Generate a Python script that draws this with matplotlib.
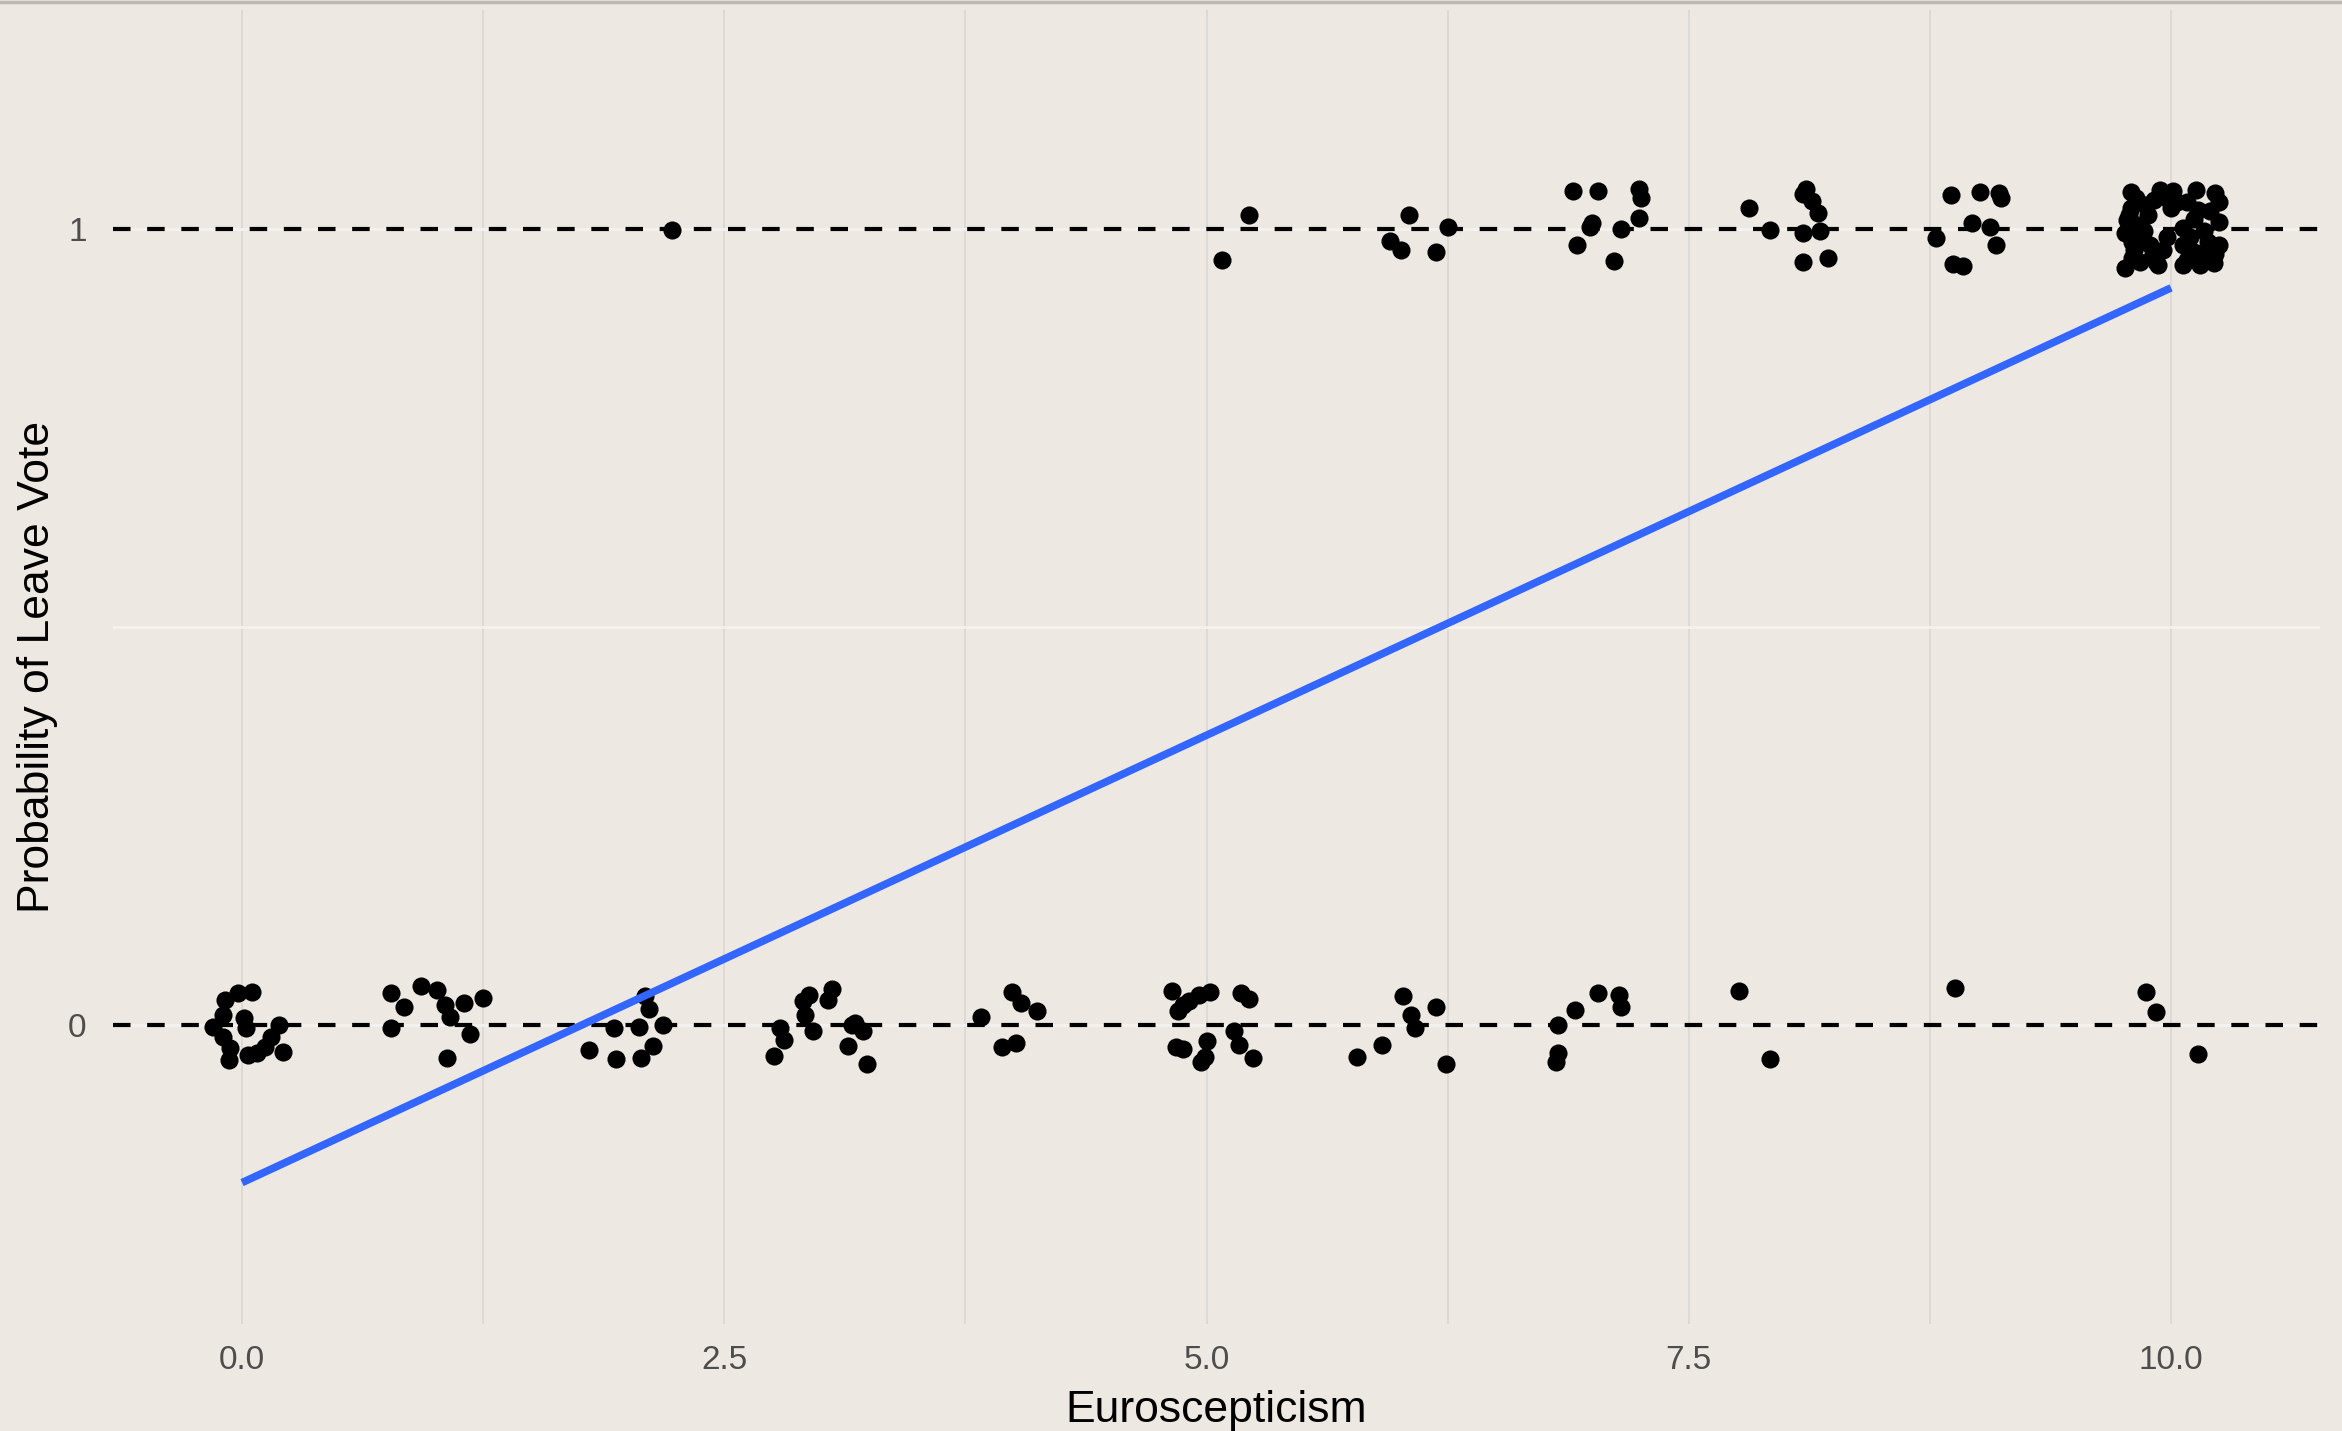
"""
Linear probability model of a Leave vote against euroscepticism,
with jittered respondents and the fitted line.
"""
import matplotlib
matplotlib.use("Agg")
import matplotlib.pyplot as plt
from matplotlib.lines import Line2D
from matplotlib.ticker import FixedLocator
import numpy as np

plt.rcParams['font.family'] = ['Liberation Sans', 'DejaVu Sans']

# Jittered respondents who voted Remain (vote = 0).
remain_x = [
    -0.09, -0.02, 0.05, -0.10, -0.15, 0.01, 0.02, 0.19, 0.15, -0.10, -0.06, -0.07, 0.03, 0.08, 0.12, 0.21,
    0.77, 0.84, 0.93, 1.01, 1.05, 1.08, 1.15, 1.25, 0.77, 1.18, 1.06,
    2.09, 2.11, 2.18, 2.06, 1.93, 2.13, 1.80, 1.94, 2.07,
    2.94, 2.91, 3.06, 3.04, 2.92, 2.96, 2.79, 2.81, 2.76, 3.16, 3.22, 3.14, 3.24, 3.18,
    3.83, 3.99, 4.04, 4.12, 3.94, 4.01,
    4.82, 4.85, 4.88, 4.91, 4.96, 5.02, 4.84, 4.88, 5.00, 4.97, 4.99, 5.14, 5.17, 5.18, 5.22, 5.24,
    6.02, 6.19, 6.06, 6.08, 5.91, 5.78, 6.24,
    6.82, 6.91, 7.03, 7.14, 7.15, 6.82, 6.81,
    7.76, 7.92,
    8.88,
    9.87, 9.92, 10.14,
]
remain_y = [
    0.031, 0.040, 0.041, 0.013, -0.003, 0.009, -0.004, 0.000, -0.015, -0.015, -0.029, -0.044, -0.038, -0.035, -0.028, -0.034,
    0.040, 0.023, 0.049, 0.044, 0.025, 0.010, 0.028, 0.034, -0.004, -0.011, -0.042,
    0.036, 0.020, 0.000, -0.002, -0.004, -0.026, -0.032, -0.043, -0.041,
    0.038, 0.030, 0.045, 0.032, 0.013, -0.007, -0.004, -0.019, -0.039, 0.000, -0.008, -0.027, -0.049, 0.003,
    0.010, 0.042, 0.028, 0.018, -0.028, -0.023,
    0.043, 0.018, 0.025, 0.030, 0.038, 0.041, -0.028, -0.030, -0.020, -0.046, -0.040, -0.008, -0.025, 0.040, 0.033, -0.041,
    0.036, 0.023, 0.013, -0.004, -0.025, -0.040, -0.049,
    0.000, 0.019, 0.040, 0.038, 0.022, -0.035, -0.047,
    0.043, -0.043,
    0.046,
    0.041, 0.016, -0.037,
]

# Jittered respondents who voted Leave (vote = 1).
leave_x = [
    2.23,
    5.08, 5.22,
    5.95, 6.01, 6.05, 6.19, 6.25,
    6.90, 7.03, 7.24, 7.25, 7.24, 7.00, 6.99, 7.15, 6.92, 7.11,
    7.81, 7.92, 8.09, 8.11, 8.09, 8.14, 8.17, 8.18, 8.09, 8.22,
    8.86, 9.01, 9.11, 9.12, 8.97, 9.06, 8.78, 9.09, 8.87, 8.92,
    9.79, 9.94, 10.01, 10.13, 10.23, 10.25, 10.14, 9.91, 9.79, 9.77, 10.25, 10.06, 9.76, 10.25,
    9.81, 9.96, 9.76, 9.84, 9.92, 10.08, 10.15, 10.22, 10.19, 10.12, 9.86, 10.00, 10.03, 9.88,
    9.82, 10.06, 9.98, 10.20, 9.80, 9.82, 9.84, 9.89, 10.06, 10.19, 9.98, 10.08,
    9.78, 9.85, 9.90, 9.95, 10.10, 10.17, 10.23, 9.80, 9.87, 9.93, 10.12, 10.21,
]
leave_y = [
    0.999,
    0.961, 1.018,
    0.985, 0.974, 1.018, 0.971, 1.002,
    1.048, 1.048, 1.050, 1.039, 1.014, 1.008, 1.003, 1.000, 0.980, 0.960,
    1.026, 0.999, 0.995, 1.050, 1.044, 1.035, 1.020, 0.997, 0.958, 0.964,
    1.042, 1.047, 1.045, 1.039, 1.008, 1.003, 0.988, 0.980, 0.956, 0.954,
    1.047, 1.049, 1.048, 1.049, 1.045, 1.034, 1.024, 1.036, 1.026, 1.011, 1.009, 1.001, 0.995, 0.980,
    0.974, 0.974, 0.951, 0.959, 0.959, 0.961, 0.955, 0.957, 0.984, 0.971, 0.997, 1.026, 1.034, 1.018,
    0.986, 0.955, 0.990, 1.022, 0.963, 1.039, 1.005, 0.980, 0.980, 0.967, 1.039, 1.034,
    1.018, 0.992, 0.965, 1.044, 0.990, 0.998, 0.968, 0.983, 1.030, 0.955, 1.012, 0.975,
]

# Fitted OLS line over the observed range of euroscepticism.
fit_x = [0.0, 10.0]
fit_y = [-0.198, 0.926]

x_ticks = [0.0, 2.5, 5.0, 7.5, 10.0]
x_minor = [1.25, 3.75, 6.25, 8.75]
y_ticks = [0, 1]
y_minor = [0.5]

bg = "#EDE8E2"
fig = plt.figure(figsize=(23.42, 14.31), dpi=100, facecolor=bg)
ax = fig.add_axes([113 / 2342, 1 - 1324 / 1431, 2207 / 2342, 1314 / 1431])
ax.set_facecolor(bg)

# Grid: light vertical lines, whitish horizontal lines.
ax.xaxis.set_major_locator(FixedLocator(x_ticks))
ax.xaxis.set_minor_locator(FixedLocator(x_minor))
ax.yaxis.set_major_locator(FixedLocator(y_ticks))
ax.yaxis.set_minor_locator(FixedLocator(y_minor))
ax.set_xticklabels(["{:.1f}".format(t) for t in x_ticks])
ax.set_yticklabels([str(t) for t in y_ticks])
ax.grid(True, which="both", axis="x", color="#DCD9D4", linewidth=1.3)
ax.grid(True, which="both", axis="y", color="#F4F2EF", linewidth=2.0)
ax.set_axisbelow(True)

# Reference lines at the two possible outcomes.
for level in y_ticks:
    ln = ax.axhline(level, color="black", linewidth=3.0, zorder=2)
    ln.set_dashes([4.2, 4.0])

ax.scatter(remain_x, remain_y, s=170, color="black", linewidths=0, zorder=3)
ax.scatter(leave_x, leave_y, s=170, color="black", linewidths=0, zorder=3)
ax.plot(fit_x, fit_y, color="#3366FF", linewidth=5.5, solid_capstyle="butt", zorder=4)

ax.set_xlim(-0.669, 10.772)
ax.set_ylim(-0.3756, 1.275)

for side in ax.spines.values():
    side.set_visible(False)
ax.tick_params(which="both", length=0)
ax.tick_params(axis="x", labelsize=24, labelcolor="#4D4D4D", pad=15)
ax.tick_params(axis="y", labelsize=24, labelcolor="#4D4D4D", pad=19)

ax.set_xlabel("Euroscepticism", fontsize=32, color="black")
ax.xaxis.set_label_coords(0.5, -0.0746)
ax.xaxis.label.set_va("baseline")
ax.set_ylabel("Probability of Leave Vote", fontsize=32, color="black")
ax.yaxis.set_label_coords(-0.0344, 0.5)
ax.yaxis.label.set_va("center")

# Thin grey rule along the top edge of the figure.
fig.add_artist(Line2D([0, 1], [1 - 2 / 1431, 1 - 2 / 1431], transform=fig.transFigure,
                      color="#BCB9B3", linewidth=2.5))

plt.savefig("out.png", dpi=100, facecolor=bg)
